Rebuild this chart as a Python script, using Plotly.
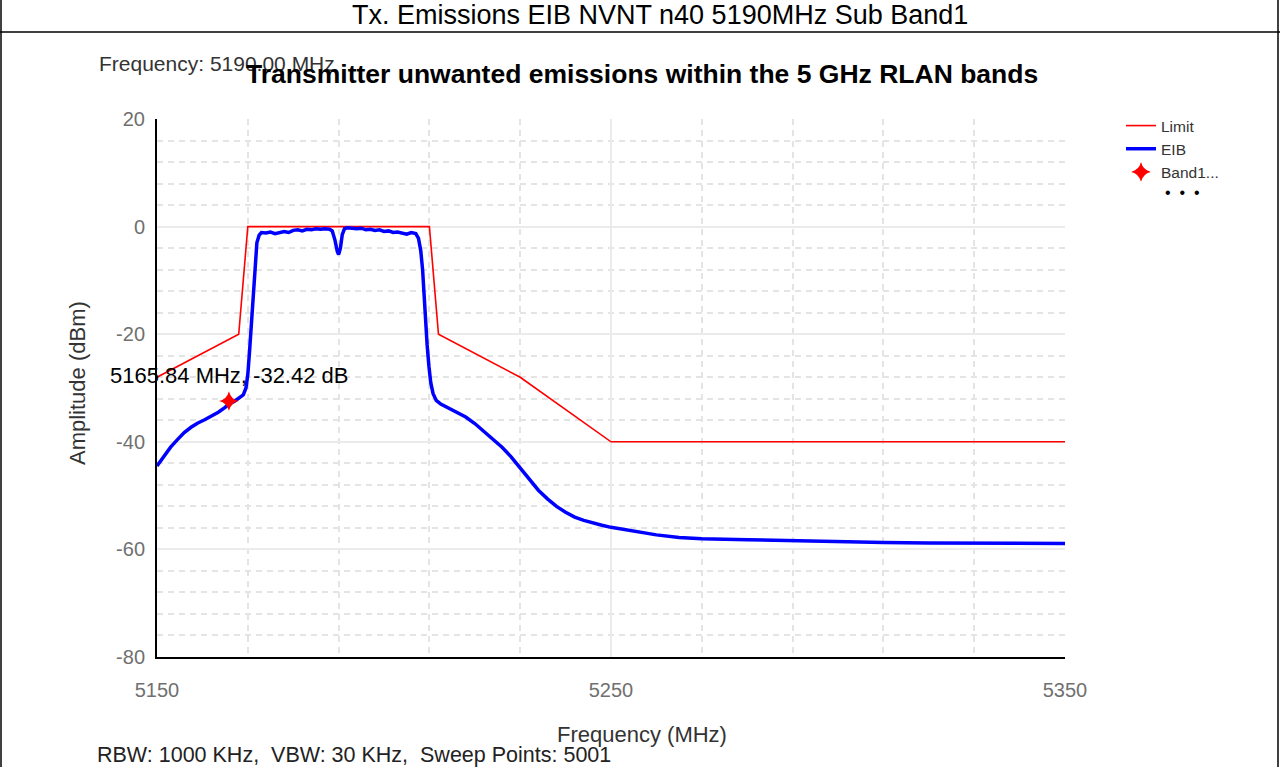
import plotly.graph_objects as go

# ---- measured spectrum (EIB trace), MHz / dBm ----
eib_freq = [
    5150.0, 5151.5, 5153.0, 5154.5, 5156.0, 5157.5, 5159.0, 5160.5, 5162.0, 5163.5,
    5165.0, 5166.0, 5167.0, 5168.0, 5169.0, 5169.6, 5170.0, 5170.4, 5170.8, 5171.2,
    5171.6, 5172.0, 5172.5, 5173.0, 5174.0, 5175.0, 5176.0, 5177.0, 5178.0, 5179.0,
    5180.0, 5181.0, 5182.0, 5183.0, 5184.0, 5185.0, 5186.0, 5187.0, 5188.0, 5188.6,
    5189.2, 5189.7, 5190.0, 5190.4, 5190.8, 5191.3, 5192.0, 5193.0, 5194.0, 5195.0,
    5196.0, 5197.0, 5198.0, 5199.0, 5200.0, 5201.0, 5202.0, 5203.0, 5204.0, 5205.0,
    5206.0, 5207.0, 5207.6, 5208.1, 5208.5, 5208.8, 5209.1, 5209.5, 5209.9, 5210.3,
    5210.8, 5211.5, 5212.5, 5214.0, 5216.0, 5218.0, 5220.0, 5222.0, 5224.0, 5226.0,
    5228.0, 5230.0, 5232.0, 5234.0, 5236.0, 5238.0, 5240.0, 5242.0, 5244.0, 5246.0,
    5248.0, 5250.0, 5253.0, 5256.0, 5260.0, 5265.0, 5270.0, 5280.0, 5290.0, 5300.0,
    5310.0, 5320.0, 5330.0, 5340.0, 5350.0,
]
eib_level = [
    -44.5, -42.8, -41.0, -39.6, -38.3, -37.3, -36.5, -35.9, -35.2, -34.5,
    -33.6, -32.9, -32.5, -31.9, -31.3, -30.0, -27.5, -23.0, -18.0, -12.0,
    -7.0, -3.0, -1.6, -1.1, -1.2, -1.0, -1.3, -1.1, -0.9, -1.1,
    -0.7, -0.6, -0.8, -0.5, -0.6, -0.4, -0.5, -0.4, -0.5, -0.8,
    -2.5, -4.6, -5.2, -4.0, -1.5, -0.4, -0.2, -0.3, -0.4, -0.3,
    -0.6, -0.5, -0.7, -0.6, -0.9, -0.8, -1.1, -1.0, -1.2, -1.4,
    -1.1, -1.3, -2.2, -4.5, -8.0, -12.5, -17.5, -22.0, -26.0, -29.0,
    -31.0, -32.3, -33.0, -33.7, -34.6, -35.4, -36.6, -38.0, -39.5, -41.0,
    -42.8, -44.8, -47.0, -49.0, -50.6, -52.0, -53.1, -54.0, -54.6, -55.1,
    -55.5, -55.9, -56.3, -56.8, -57.3, -57.8, -58.0, -58.2, -58.4, -58.6,
    -58.7, -58.8, -58.8, -58.9, -58.9,
]

# ---- emission mask ----
limit_freq = [5150, 5168, 5170, 5210, 5212, 5230, 5250, 5350]
limit_level = [-28, -20, 0, 0, -20, -28, -40, -40]

# ---- band marker ----
marker_freq = [5165.84]
marker_level = [-32.42]

# ---- axis ticks ----
x_ticks = [5150, 5250, 5350]
y_ticks = [20, 0, -20, -40, -60, -80]

# ---- canvas / plot box in pixels ----
W, H = 1280, 767
L, R, T, B = 157, 1065, 119, 657
FONT = "Liberation Sans, Arial, sans-serif"


def px(x):
    return (x - L) / (R - L)


def py(y):
    return (B - y) / (B - T)


fig = go.Figure()

fig.add_trace(go.Scatter(
    x=limit_freq, y=limit_level, mode="lines", name="Limit",
    line=dict(color="#ff0000", width=1.6),
))
fig.add_trace(go.Scatter(
    x=eib_freq, y=eib_level, mode="lines", name="EIB",
    line=dict(color="#0000ff", width=3.5),
))
fig.add_trace(go.Scatter(
    x=marker_freq, y=marker_level, mode="markers", name="Band1...",
    marker=dict(symbol="star-diamond", size=14, color="#ff0000"),
))

annotations = [
    dict(text="Tx. Emissions EIB NVNT n40 5190MHz Sub Band1", x=px(660), y=py(15),
         font=dict(size=27, color="#000000")),
    dict(text="Frequency: 5190.00 MHz", x=px(97), y=py(63), xanchor="left",
         font=dict(size=21, color="#333333")),
    dict(text="<b>Transmitter unwanted emissions within the 5 GHz RLAN bands</b>",
         x=px(642), y=py(74), font=dict(size=26.5, color="#000000")),
    dict(text="Frequency (MHz)", x=px(642), y=py(734),
         font=dict(size=22, color="#333333")),
    dict(text="Amplitude (dBm)", x=px(77), y=py(383), textangle=-90,
         font=dict(size=22, color="#333333")),
    dict(text="RBW: 1000 KHz,  VBW: 30 KHz,  Sweep Points: 5001", x=px(95), y=py(755),
         xanchor="left", font=dict(size=21.5, color="#222222")),
    dict(text="•  •  •", x=px(1182), y=py(192), font=dict(size=16, color="#000000")),
]
for a in annotations:
    a.update(xref="paper", yref="paper", showarrow=False)
    a.setdefault("xanchor", "center")
    a.setdefault("yanchor", "middle")

# label of the band marker, centred above the marker point
annotations.append(dict(
    text=f"{marker_freq[0]:.2f} MHz, {marker_level[0]:.2f} dB",
    x=marker_freq[0], y=marker_level[0], xref="x", yref="y",
    xanchor="center", yanchor="middle", yshift=26, showarrow=False,
    font=dict(size=22, color="#000000"),
))

# table-style frame around the chart
shapes = [
    dict(type="line", xref="paper", yref="paper", x0=px(0), x1=px(W), y0=py(32), y1=py(32),
         line=dict(color="#000000", width=1.5)),
    dict(type="line", xref="paper", yref="paper", x0=px(1), x1=px(1), y0=py(0), y1=py(H),
         line=dict(color="#000000", width=1.5)),
    dict(type="line", xref="paper", yref="paper", x0=px(1278), x1=px(1278), y0=py(0), y1=py(H),
         line=dict(color="#000000", width=1.5)),
]

axis_common = dict(
    showgrid=True, gridcolor="#ebebeb", gridwidth=2,
    showline=True, linecolor="#000000", linewidth=2, mirror=False,
    zeroline=False, ticks="",
    tickfont=dict(size=20, color="#707070", family=FONT),
)

fig.update_layout(
    width=W, height=H, autosize=False,
    margin=dict(l=L, r=W - R, t=T, b=H - B, pad=0),
    paper_bgcolor="#ffffff", plot_bgcolor="#ffffff",
    font=dict(family=FONT, color="#333333"),
    showlegend=True,
    legend=dict(
        x=px(1121), y=py(109), xanchor="left", yanchor="top",
        font=dict(size=15.5, color="#333333"),
        bgcolor="rgba(0,0,0,0)", tracegroupgap=0,
    ),
    xaxis=dict(
        range=[5150, 5350], tickvals=x_ticks, ticktext=[str(v) for v in x_ticks],
        minor=dict(tick0=5150, dtick=20, showgrid=True, gridcolor="#e4e4e4",
                   gridwidth=1.5, griddash="6px,5px"),
        ticklabelstandoff=14,
        **axis_common,
    ),
    yaxis=dict(
        range=[-80, 20], tickvals=y_ticks, ticktext=[str(v) for v in y_ticks],
        minor=dict(tick0=0, dtick=4, showgrid=True, gridcolor="#e4e4e4",
                   gridwidth=1.5, griddash="6px,5px"),
        ticklabelstandoff=6,
        **axis_common,
    ),
    annotations=annotations,
    shapes=shapes,
)

fig.write_html("out.html")
